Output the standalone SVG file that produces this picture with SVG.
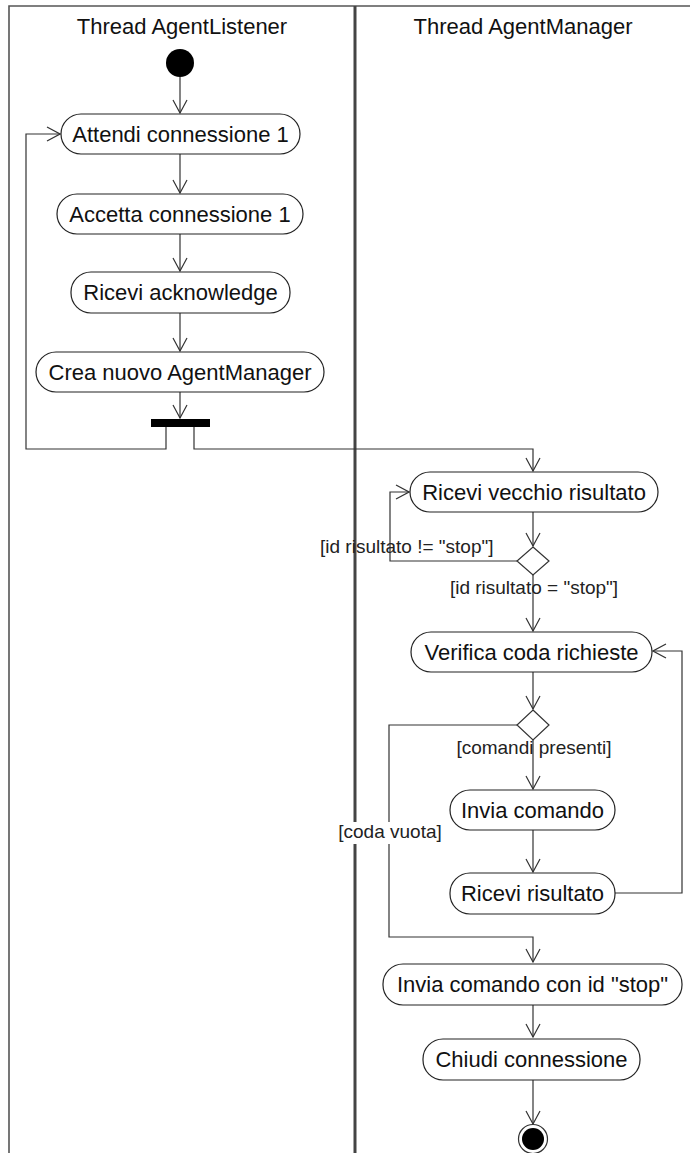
<svg xmlns="http://www.w3.org/2000/svg" width="690" height="1153" viewBox="0 0 690 1153">
<style>
.frame{stroke:#555;stroke-width:1.6;fill:none}
.div{stroke:#444;stroke-width:3;fill:none}
.act rect{fill:#fff;stroke:#222;stroke-width:1.2}
.act text,.title{font-family:"Liberation Sans",Arial,sans-serif;font-size:22px;fill:#111;text-anchor:middle}
.lbl{font-family:"Liberation Sans",Arial,sans-serif;font-size:19px;fill:#222}
.lblbg{fill:#fff}
.edge{stroke:#333;stroke-width:1.2;fill:none}
.dec{fill:#fff;stroke:#333;stroke-width:1.2}
</style>
<defs>
<marker id="arr" markerUnits="userSpaceOnUse" viewBox="-14 -8 15 16" markerWidth="15" markerHeight="16" refX="0" refY="0" orient="auto">
<path d="M-13,-7 L0,0 L-13,7" fill="none" stroke="#333" stroke-width="1.2"/>
</marker>
</defs>
<rect width="690" height="1153" fill="#fff"/>
<g id="lanes">
<path class="frame" d="M9,1153 V6 H690"/>
<path class="div" d="M355,6 V1153"/>
<text class="title" x="182" y="34">Thread AgentListener</text>
<text class="title" x="523" y="34">Thread AgentManager</text>
</g>
<g id="connectors">
<path class="edge" d="M180,77 V113" marker-end="url(#arr)"/>
<path class="edge" d="M180,154 V193" marker-end="url(#arr)"/>
<path class="edge" d="M180,234 V271" marker-end="url(#arr)"/>
<path class="edge" d="M180,313 V351" marker-end="url(#arr)"/>
<path class="edge" d="M180,392 V418" marker-end="url(#arr)"/>
<path class="edge" d="M166,427 V449 H26 V134 H60" marker-end="url(#arr)"/>
<path class="edge" d="M194,427 V449 H533 V471" marker-end="url(#arr)"/>
<path class="edge" d="M533,512 V546" marker-end="url(#arr)"/>
<path class="edge" d="M517,561 H390 V492 H409" marker-end="url(#arr)"/>
<path class="edge" d="M533,575 V631" marker-end="url(#arr)"/>
<path class="edge" d="M533,672 V709" marker-end="url(#arr)"/>
<path class="edge" d="M533,740 V789" marker-end="url(#arr)"/>
<path class="edge" d="M533,830 V872" marker-end="url(#arr)"/>
<path class="edge" d="M615,893 H682 V651 H653" marker-end="url(#arr)"/>
<path class="edge" d="M517,725 H389 V937 H533 V962" marker-end="url(#arr)"/>
<path class="edge" d="M533,1005 V1037" marker-end="url(#arr)"/>
<path class="edge" d="M533,1080 V1124" marker-end="url(#arr)"/>
<rect class="lblbg" x="336" y="822" width="110" height="22"/>
<text class="lbl" x="320" y="553">[id risultato != "stop"]</text>
<text class="lbl" x="534" y="594" text-anchor="middle">[id risultato = "stop"]</text>
<text class="lbl" x="534" y="754" text-anchor="middle">[comandi presenti]</text>
<text class="lbl" x="390" y="838" text-anchor="middle">[coda vuota]</text>
</g>
<g id="start"><circle cx="180" cy="63" r="14" fill="#000"/></g>
<g id="n1" class="act"><rect x="61" y="114" width="239" height="40" rx="20"/><text x="180.5" y="142">Attendi connessione 1</text></g>
<g id="n2" class="act"><rect x="57" y="194" width="246" height="40" rx="20"/><text x="180" y="222">Accetta connessione 1</text></g>
<g id="n3" class="act"><rect x="71" y="272" width="219" height="41" rx="20"/><text x="180.5" y="300">Ricevi acknowledge</text></g>
<g id="n4" class="act"><rect x="36" y="352" width="288" height="40" rx="20"/><text x="180" y="380">Crea nuovo AgentManager</text></g>
<g id="fork"><rect x="151" y="419" width="59" height="8" fill="#000"/></g>
<g id="n5" class="act"><rect x="410" y="472" width="248" height="40" rx="20"/><text x="534" y="500">Ricevi vecchio risultato</text></g>
<g id="d1"><path class="dec" d="M533,547 L549,561 L533,575 L517,561 Z"/></g>
<g id="n6" class="act"><rect x="411" y="632" width="241" height="40" rx="20"/><text x="531.5" y="660">Verifica coda richieste</text></g>
<g id="d2"><path class="dec" d="M533,710 L549,725 L533,740 L517,725 Z"/></g>
<g id="n7" class="act"><rect x="450" y="790" width="165" height="40" rx="20"/><text x="532.5" y="818">Invia comando</text></g>
<g id="n8" class="act"><rect x="450" y="873" width="165" height="41" rx="20"/><text x="532.5" y="901">Ricevi risultato</text></g>
<g id="n9" class="act"><rect x="383" y="964" width="299" height="41" rx="20"/><text x="532.5" y="992">Invia comando con id "stop"</text></g>
<g id="n10" class="act"><rect x="423" y="1039" width="217" height="41" rx="20"/><text x="531.5" y="1067">Chiudi connessione</text></g>
<g id="end"><circle cx="533" cy="1139" r="14.5" fill="#fff" stroke="#333" stroke-width="1.2"/><circle cx="533" cy="1139" r="11" fill="#000"/></g>
</svg>
